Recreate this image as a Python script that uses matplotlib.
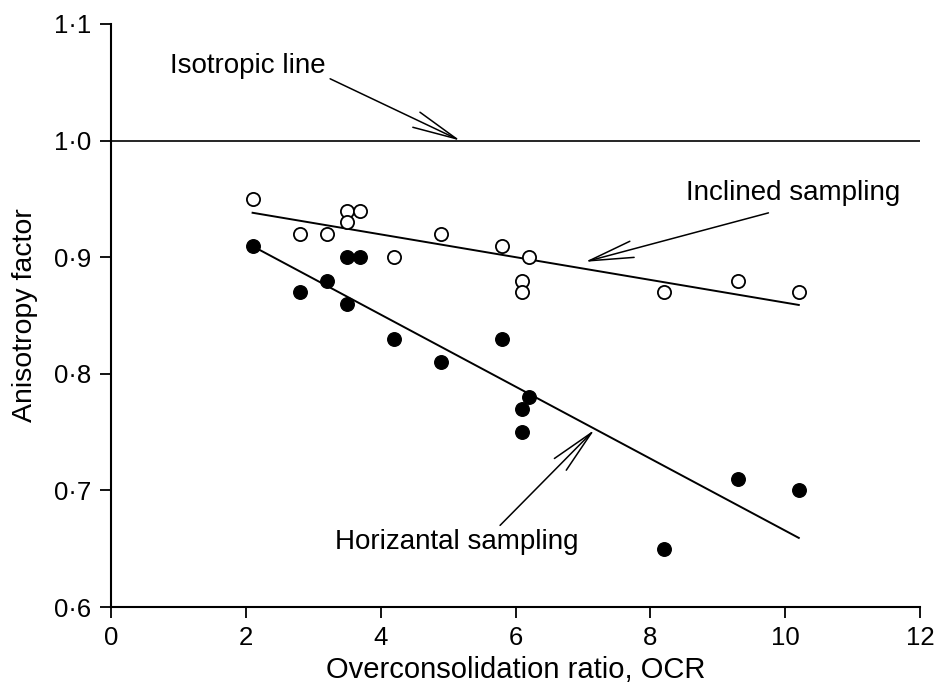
import numpy as np
import matplotlib
matplotlib.use("Agg")
import matplotlib.pyplot as plt

plt.rcParams['font.family'] = ['Liberation Sans', 'DejaVu Sans']

# Data
ocr = [2.1, 2.8, 3.2, 3.5, 3.5, 3.7, 4.2, 4.9, 5.8, 6.2, 6.1, 6.1, 8.2, 9.3, 10.2]
inclined = [0.95, 0.92, 0.92, 0.94, 0.93, 0.94, 0.90, 0.92, 0.91, 0.90, 0.88, 0.87, 0.87, 0.88, 0.87]
ocr_h = [2.1, 2.8, 3.2, 3.5, 3.7, 3.5, 4.2, 4.9, 5.8, 6.2, 6.1, 6.1, 8.2, 9.3, 10.2]
horizontal = [0.91, 0.87, 0.88, 0.90, 0.90, 0.86, 0.83, 0.81, 0.83, 0.78, 0.77, 0.75, 0.65, 0.71, 0.70]
isotropic = 1.0
xticks = [0, 2, 4, 6, 8, 10, 12]
yticks = [0.6, 0.7, 0.8, 0.9, 1.0, 1.1]
ytick_labels = ['0·6', '0·7', '0·8', '0·9', '1·0', '1·1']

fig = plt.figure(figsize=(9.38, 6.89), dpi=100)
ax = fig.add_axes([0.1183, 0.119, 0.8627, 0.8462])

ax.axhline(isotropic, color='black', lw=1.2)

# regression lines
for xs, ys in [(ocr, inclined), (ocr_h, horizontal)]:
    p = np.polyfit(xs, ys, 1)
    xl = np.array([min(xs), max(xs)])
    ax.plot(xl, np.polyval(p, xl), color='black', lw=1.4)

ax.scatter(ocr, inclined, s=90, facecolors='white', edgecolors='black', linewidths=1.3, zorder=3)
ax.scatter(ocr_h, horizontal, s=95, facecolors='black', edgecolors='black', zorder=3)

ax.set_xlim(0, 12)
ax.set_ylim(0.6, 1.1)
ax.set_xticks(xticks)
ax.set_xticklabels([str(t) for t in xticks])
ax.set_yticks(yticks)
ax.set_yticklabels(ytick_labels)
ax.tick_params(direction='out', length=8, width=1.3, labelsize=18.5, pad=6)
for s in ['top', 'right']:
    ax.spines[s].set_visible(False)
for s in ['left', 'bottom']:
    ax.spines[s].set_linewidth(1.5)
ax.set_xlabel('Overconsolidation ratio, OCR', fontsize=21, labelpad=4)
ax.set_ylabel('Anisotropy factor', fontsize=20.5, labelpad=12)

ap = dict(arrowstyle='->,head_length=1.6,head_width=0.3', color='black', lw=1.1,
          shrinkA=0, shrinkB=0, mutation_scale=20)
ax.text(2.03, 1.064, 'Isotropic line', fontsize=20, ha='center', va='center')
ax.annotate('', xy=(5.18, 1.0), xytext=(3.25, 1.053), arrowprops=ap)
ax.text(10.12, 0.955, 'Inclined sampling', fontsize=20, ha='center', va='center')
ax.annotate('', xy=(7.03, 0.896), xytext=(9.75, 0.938), arrowprops=ap)
ax.text(5.13, 0.656, 'Horizantal sampling', fontsize=20, ha='center', va='center')
ax.annotate('', xy=(7.17, 0.752), xytext=(5.77, 0.670), arrowprops=ap)

fig.savefig('out.png', dpi=100)
